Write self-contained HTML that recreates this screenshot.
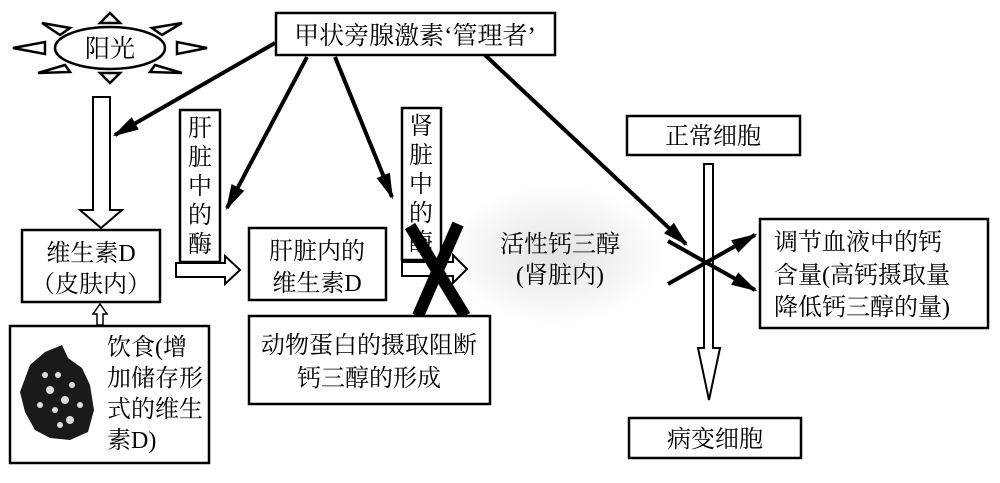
<!DOCTYPE html>
<html><head><meta charset="utf-8"><style>
body{margin:0;background:#fff}
svg{display:block}
text{font-family:"Liberation Serif","Noto Serif CJK SC",serif;fill:#000}
</style></head><body>
<svg width="1000" height="483" viewBox="0 0 1000 483" xmlns="http://www.w3.org/2000/svg">
<defs>
<marker id="ah" viewBox="0 0 10 10" refX="9" refY="5" markerWidth="6.5" markerHeight="3.6" orient="auto" markerUnits="strokeWidth" preserveAspectRatio="none"><path d="M0,0 L10,5 L0,10 z" fill="#000"/></marker>
<radialGradient id="gr"><stop offset="0" stop-color="#e2e2e2"/><stop offset="1" stop-color="#fff"/></radialGradient>
</defs>
<ellipse cx="555" cy="255" rx="110" ry="70" fill="url(#gr)"/>
<!-- sun -->
<ellipse cx="110" cy="48" rx="55" ry="21" fill="#fff" stroke="#000" stroke-width="2.5"/>
<text x="110" y="57" font-size="25" text-anchor="middle">阳光</text>
<g fill="#fff" stroke="#000" stroke-width="2.5">
<polygon points="100,23 120,23 110,13"/>
<polygon points="100,73 120,73 110,83"/>
<polygon points="45,42 45,54 13,48"/>
<polygon points="177,42 177,54 207,48"/>
<polygon points="42,23 70,28 60,35"/>
<polygon points="182,23 152,28 162,35"/>
<polygon points="38,73 65,65 70,72"/>
<polygon points="182,73 155,65 150,72"/>
</g>
<!-- top box -->
<rect x="276" y="13" width="279" height="42" fill="#fff" stroke="#000" stroke-width="2.5"/>
<text x="415" y="44" font-size="25" text-anchor="middle">甲状旁腺激素‘管理者’</text>
<!-- hollow arrow sun -->
<polygon points="93,97 110,97 110,210 122,210 101,228 80,210 93,210" fill="#fff" stroke="#000" stroke-width="2"/>
<!-- vitamin D box -->
<rect x="22" y="230" width="138" height="72" fill="#fff" stroke="#000" stroke-width="2.5"/>
<text x="91" y="261" font-size="24" text-anchor="middle">维生素D</text>
<text x="91" y="292" font-size="24" text-anchor="middle">（皮肤内）</text>
<polygon points="97,325 103,325 103,314 107,314 100,304 93,314 97,314" fill="#fff" stroke="#000" stroke-width="1.5"/>
<!-- diet box -->
<rect x="10" y="326" width="199" height="137" fill="#fff" stroke="#000" stroke-width="2.5"/>
<path d="M30,365 L45,352 L62,345 L68,358 L82,368 L90,385 L94,410 L88,432 L70,440 L50,438 L35,430 L25,412 L20,392 Z" fill="#1a1a1a"/>
<g fill="#ddd"><circle cx="50" cy="390" r="4"/><circle cx="65" cy="400" r="4"/><circle cx="55" cy="410" r="3"/><circle cx="72" cy="385" r="3"/><circle cx="45" cy="375" r="3"/><circle cx="70" cy="420" r="4"/><circle cx="40" cy="405" r="3"/><circle cx="80" cy="405" r="3"/><circle cx="60" cy="425" r="3"/><circle cx="58" cy="375" r="3"/></g>
<text font-size="24"><tspan x="107" y="355">饮食(增</tspan><tspan x="107" y="386">加储存形</tspan><tspan x="107" y="417">式的维生</tspan><tspan x="107" y="448">素D)</tspan></text>
<!-- liver enzyme -->
<rect x="180" y="110" width="40" height="152" fill="#fff" stroke="#000" stroke-width="2.5"/>
<text font-size="24" text-anchor="middle"><tspan x="200" y="136">肝</tspan><tspan x="200" y="165">脏</tspan><tspan x="200" y="194">中</tspan><tspan x="200" y="223">的</tspan><tspan x="200" y="252">酶</tspan></text>
<polygon points="176,263 225,263 225,256 240,270 225,284 225,277 176,277" fill="#fff" stroke="#000" stroke-width="2"/>
<rect x="249" y="228" width="137" height="72" fill="#fff" stroke="#000" stroke-width="2.5"/>
<text x="317" y="259" font-size="24" text-anchor="middle">肝脏内的</text>
<text x="317" y="291" font-size="24" text-anchor="middle">维生素D</text>
<!-- kidney enzyme -->
<rect x="402" y="108" width="39" height="152" fill="#fff" stroke="#000" stroke-width="2.5"/>
<text font-size="24" text-anchor="middle"><tspan x="421" y="134">肾</tspan><tspan x="421" y="163">脏</tspan><tspan x="421" y="192">中</tspan><tspan x="421" y="221">的</tspan><tspan x="421" y="250">酶</tspan></text>
<polygon points="402,262 453,262 453,255 467,269 453,283 453,276 402,276" fill="#fff" stroke="#000" stroke-width="2"/>
<line x1="410" y1="226" x2="465" y2="316" stroke="#000" stroke-width="12"/>
<line x1="458" y1="224" x2="418" y2="316" stroke="#000" stroke-width="12"/>
<rect x="249" y="316" width="241" height="88" fill="#fff" stroke="#000" stroke-width="2.5"/>
<text x="369" y="353" font-size="24" text-anchor="middle">动物蛋白的摄取阻断</text>
<text x="369" y="386" font-size="24" text-anchor="middle">钙三醇的形成</text>
<text x="560" y="252" font-size="24" text-anchor="middle">活性钙三醇</text>
<text x="560" y="283" font-size="24" text-anchor="middle">(肾脏内)</text>
<!-- right side -->
<rect x="627" y="116" width="173" height="39" fill="#fff" stroke="#000" stroke-width="2.5"/>
<text x="713" y="144" font-size="24" text-anchor="middle">正常细胞</text>
<polygon points="704,164 713,164 713,348 720,348 709,400 698,348 704,348" fill="#fff" stroke="#000" stroke-width="2"/>
<rect x="629" y="418" width="172" height="40" fill="#fff" stroke="#000" stroke-width="2.5"/>
<text x="715" y="447" font-size="24" text-anchor="middle">病变细胞</text>
<rect x="760" y="219" width="228" height="109" fill="#fff" stroke="#000" stroke-width="2.5"/>
<text font-size="24"><tspan x="774" y="250">调节血液中的钙</tspan><tspan x="774" y="283">含量(高钙摄取量</tspan><tspan x="774" y="315">降低钙三醇的量)</tspan></text>
<!-- arrows -->
<g stroke="#000" stroke-width="4" fill="none" marker-end="url(#ah)">
<line x1="275" y1="43" x2="115" y2="135"/>
<line x1="307" y1="57" x2="227" y2="208"/>
<line x1="335" y1="57" x2="392" y2="197"/>
<line x1="485" y1="55" x2="686" y2="244"/>
<line x1="668" y1="241" x2="755" y2="290"/>
<line x1="668" y1="284" x2="755" y2="235"/>
</g>
</svg>
</body></html>
